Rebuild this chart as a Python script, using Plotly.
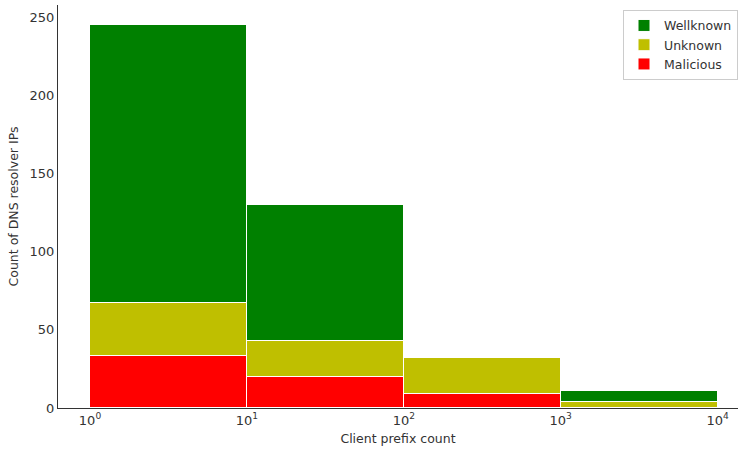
import numpy as np
import plotly.graph_objects as go

bin_edges = [1, 10, 100, 1000, 10000]
malicious = [33, 20, 9, 0]
unknown = [34, 23, 23, 4]
wellknown = [178, 87, 0, 7]
tick_labels = ["10<sup>0</sup>", "10<sup>1</sup>", "10<sup>2</sup>", "10<sup>3</sup>", "10<sup>4</sup>"]

log_edges = np.log10(bin_edges)
centers = (log_edges[:-1] + log_edges[1:]) / 2
widths = np.diff(log_edges)

fig = go.Figure()
for name, vals, color in [("Malicious", malicious, "#ff0000"),
                          ("Unknown", unknown, "#bfbf00"),
                          ("Wellknown", wellknown, "#008000")]:
    fig.add_trace(go.Bar(x=centers, y=vals, width=widths, name=name,
                         marker=dict(color=color, line=dict(color="white", width=1))))

font = "DejaVu Sans"
fig.update_layout(
    width=739, height=452,
    margin=dict(l=58, r=1, t=5, b=44),
    barmode="stack", bargap=0,
    plot_bgcolor="white", paper_bgcolor="white",
    font=dict(family=font, size=13, color="#333333"),
    legend=dict(traceorder="reversed", x=1, y=0.988, xanchor="right", yanchor="top",
                bordercolor="#cccccc", borderwidth=1, bgcolor="white",
                font=dict(size=12.5), itemwidth=30, tracegroupgap=0),
    xaxis=dict(range=[-0.204, 4.13], tickvals=list(log_edges), ticktext=tick_labels,
               showgrid=False, zeroline=False, showline=True, linecolor="#333333", linewidth=1,
               ticks="", tickfont=dict(size=13),
               title=dict(text="Client prefix count", font=dict(size=12.5), standoff=7)),
    yaxis=dict(range=[0, 257.7], tickvals=[0, 50, 100, 150, 200, 250],
               showgrid=False, zeroline=False, showline=True, linecolor="#333333", linewidth=1,
               ticks="", tickfont=dict(size=13),
               title=dict(text="Count of DNS resolver IPs", font=dict(size=12.5), standoff=8)),
)
fig.write_html("out.html")
